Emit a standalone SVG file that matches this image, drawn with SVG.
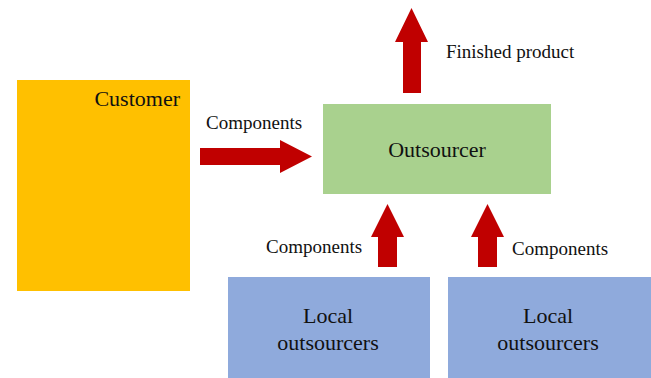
<svg xmlns="http://www.w3.org/2000/svg" width="651" height="378" viewBox="0 0 651 378">
<style>
text{font-family:"Liberation Serif","Times New Roman",serif;fill:#111}
.big{font-size:22px}
.small{font-size:19px}
.arrow{fill:#C00000}
</style>
<rect width="651" height="378" fill="#fff"/>
<g id="customer">
<rect x="17" y="80" width="173" height="211" fill="#FFC000"/>
<text class="big" x="180" y="106" text-anchor="end">Customer</text>
</g>
<g id="outsourcer">
<rect x="323" y="104" width="228" height="90" fill="#A9D18E"/>
<text class="big" x="437" y="157" text-anchor="middle">Outsourcer</text>
</g>
<g id="local1">
<rect x="228" y="277" width="202" height="101" fill="#8FAADC"/>
<text class="big" x="328" y="323" text-anchor="middle">Local</text>
<text class="big" x="328" y="350" text-anchor="middle">outsourcers</text>
</g>
<g id="local2">
<rect x="448" y="277" width="203" height="101" fill="#8FAADC"/>
<text class="big" x="548" y="323" text-anchor="middle">Local</text>
<text class="big" x="548" y="350" text-anchor="middle">outsourcers</text>
</g>
<g id="connectors">
<polygon class="arrow" points="200,148 280,148 280,140 312,156.5 280,173 280,165 200,165"/>
<polygon class="arrow" points="403,93 403,42 395,42 411.5,8 428,42 421,42 421,93"/>
<polygon class="arrow" points="378,267 378,237 371,237 387.5,204 404,237 397,237 397,267"/>
<polygon class="arrow" points="478,267 478,237 471,237 487.5,204 504,237 497,237 497,267"/>
<text class="small" x="206" y="129">Components</text>
<text class="small" x="446" y="58">Finished product</text>
<text class="small" x="266" y="253">Components</text>
<text class="small" x="512" y="255">Components</text>
</g>
</svg>
